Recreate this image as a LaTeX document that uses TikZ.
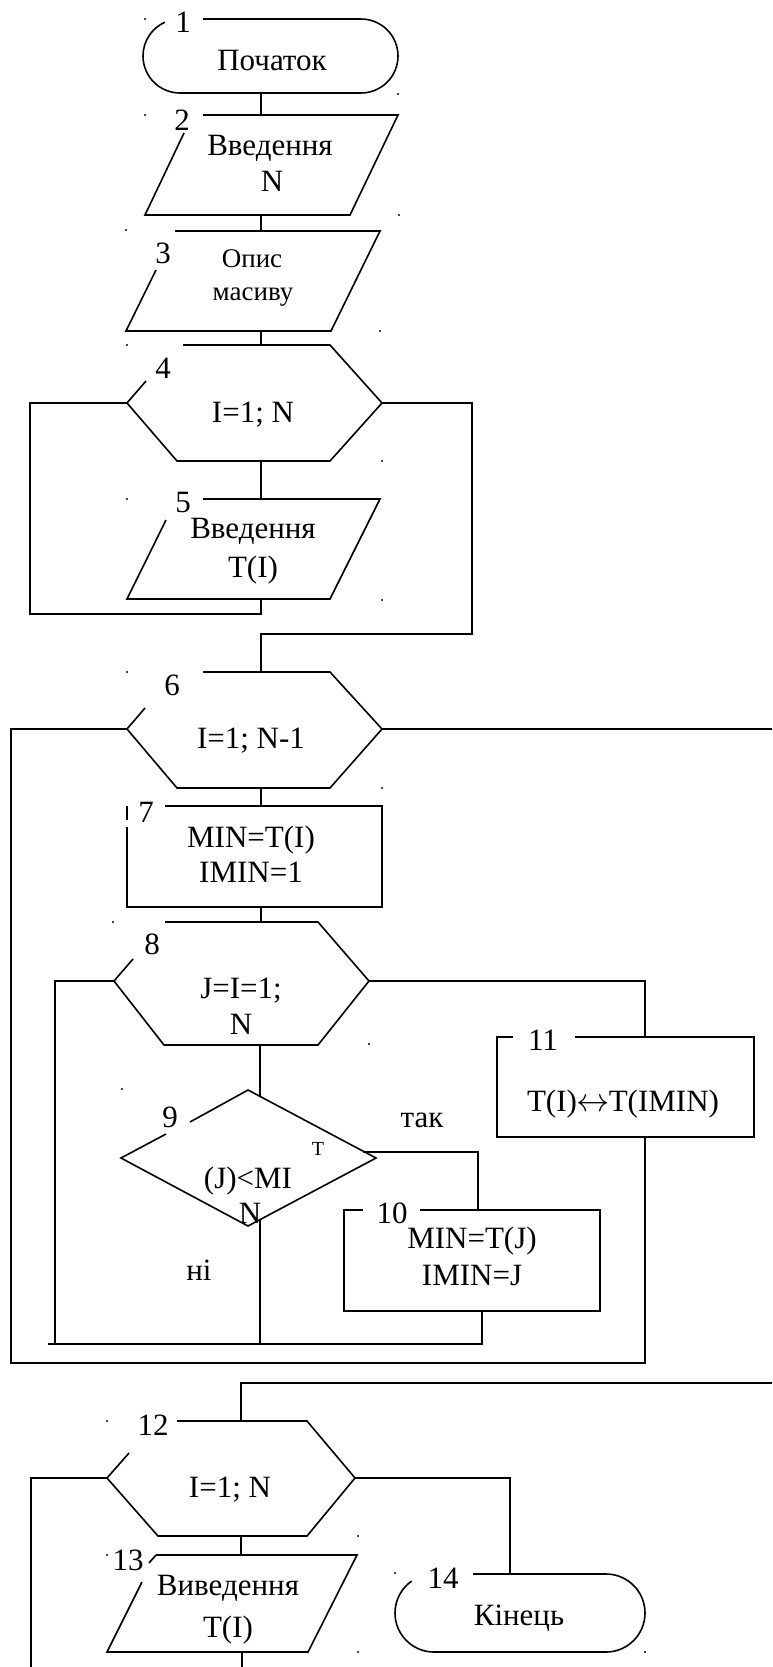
\documentclass[tikz,border=0pt]{standalone}
\usepackage{fontspec}
\setmainfont{Liberation Serif}
\begin{document}
\begin{tikzpicture}[x=0.75pt,y=-0.75pt,line join=miter,
  lbl/.style={anchor=base,inner sep=0pt,font=\fontsize{23.25}{28}\selectfont},
  lblsmall/.style={lbl,font=\fontsize{20.25}{24}\selectfont},
  lbltiny/.style={lbl,font=\fontsize{15}{18}\selectfont},
  outline/.style={draw=black,line width=1.2pt},
  flow/.style={draw=black,line width=1.2pt}]

\useasboundingbox (0,0) rectangle (772,1667);

% ---------- block outlines (gaps left for the block numbers) ----------
% 1: start terminator
\draw[outline] (203,19) -- (361,19) arc[start angle=90,end angle=-90,radius=27.75pt]
  -- (180,93) arc[start angle=270,end angle=114,radius=27.75pt];
% 2: input N
\draw[outline] (203,115) -- (398,115) -- (350,215) -- (145,215) -- (184,133);
% 3: array description
\draw[outline] (175,231) -- (380,231) -- (331,331) -- (126,331) -- (156,270);
% 4: loop I=1;N
\draw[outline] (183,345) -- (330,345) -- (382,403) -- (330,461) -- (177,461) -- (127,403) -- (146,381);
% 5: input T(I)
\draw[outline] (203,499) -- (380,499) -- (330,599) -- (127,599) -- (166,520);
% 6: loop I=1;N-1
\draw[outline] (203,672) -- (330,672) -- (382,729) -- (330,788) -- (177,788) -- (127,729) -- (145,708);
% 7: process
\draw[outline] (165,806) -- (382,806) -- (382,907) -- (127,907) -- (127,827);
\draw[outline] (127,806) -- (127,820);
% 8: loop over J
\draw[outline] (165,922) -- (318,922) -- (369,981) -- (318,1045) -- (164,1045) -- (114,981) -- (133,959);
% 9: decision
\draw[outline] (190,1122) -- (248,1090) -- (376,1158) -- (248,1226) -- (121,1158) -- (166,1134);
% 10: process
\draw[outline] (363,1210) -- (344,1210) -- (344,1311) -- (600,1311) -- (600,1210) -- (420,1210);
% 11: swap
\draw[outline] (513,1037) -- (497,1037) -- (497,1137) -- (754,1137) -- (754,1037) -- (575,1037);
% 12: loop I=1;N
\draw[outline] (177,1421) -- (307,1421) -- (355,1478) -- (307,1536) -- (158,1536) -- (107,1478) -- (129,1453);
% 13: output T(I)
\draw[outline] (156,1555) -- (357,1555) -- (308,1652) -- (107,1652) -- (142,1582);
\draw[outline] (149,1563) -- (156,1555);
% 14: end terminator
\draw[outline] (473,1574) -- (606,1574) arc[start angle=90,end angle=-90,radius=29.25pt]
  -- (434,1652) arc[start angle=270,end angle=125,radius=29.25pt];

% ---------- connection points ----------
\coordinate (t1s) at (261,93);
\coordinate (p2n) at (261,115);  \coordinate (p2s) at (261,215);
\coordinate (p3n) at (261,231);  \coordinate (p3s) at (261,331);
\coordinate (h4n) at (261,345);  \coordinate (h4s) at (261,461);
\coordinate (h4w) at (127,403);  \coordinate (h4e) at (382,403);
\coordinate (p5n) at (261,499);  \coordinate (p5s) at (261,599);
\coordinate (h6n) at (261,672);  \coordinate (h6s) at (261,788);
\coordinate (h6w) at (127,729);  \coordinate (h6e) at (382,729);
\coordinate (r7n) at (261,806);  \coordinate (r7s) at (261,907);
\coordinate (h8n) at (261,922);  \coordinate (h8s) at (260,1045);
\coordinate (h8w) at (114,981);  \coordinate (h8e) at (369,981);
\coordinate (d9n) at (260,1096); \coordinate (d9s) at (260,1220);
\coordinate (d9e) at (363,1152);
\coordinate (r10n) at (478,1210); \coordinate (r10s) at (482,1311);
\coordinate (r11n) at (645,1037); \coordinate (r11s) at (645,1137);
\coordinate (h12n) at (241,1421); \coordinate (h12s) at (241,1536);
\coordinate (h12w) at (107,1478); \coordinate (h12e) at (355,1478);
\coordinate (p13n) at (241,1555); \coordinate (p13s) at (242,1652);
\coordinate (t14n) at (510,1574);
% loop corners and open ends
\coordinate (c4l) at (30,614);   \coordinate (c4r) at (472,634);
\coordinate (c6l) at (11,1363);  \coordinate (c6r) at (772,729);
\coordinate (c8l) at (55,1344);  \coordinate (c8b) at (48,1344);
\coordinate (c12in) at (772,1383);
\coordinate (c12l) at (31,1667); \coordinate (c13s) at (242,1667);

% ---------- connectors ----------
\draw[flow] (t1s) -- (p2n);
\draw[flow] (p2s) -- (p3n);
\draw[flow] (p3s) -- (h4n);
\draw[flow] (h4s) -- (p5n);
\draw[flow] (h4w) -| (c4l) -| (p5s);
\draw[flow] (h4e) -| (c4r) -| (h6n);
\draw[flow] (h6s) -- (r7n);
\draw[flow] (h6w) -| (c6l) -| (r11s);
\draw[flow] (h6e) -- (c6r);
\draw[flow] (r7s) -- (h8n);
\draw[flow] (h8s) -- (d9n);
\draw[flow] (h8w) -| (c8l);
\draw[flow] (h8e) -| (r11n);
\draw[flow] (d9e) -| (r10n);
\draw[flow] (d9s) -- (d9s |- c8b);
\draw[flow] (c8b) -| (r10s);
\draw[flow] (c12in) -| (h12n);
\draw[flow] (h12w) -| (c12l);
\draw[flow] (h12e) -| (t14n);
\draw[flow] (h12s) -- (p13n);
\draw[flow] (p13s) -- (c13s);

% ---------- block numbers ----------
\node[lbl] (num1)  at (183,32)   {1};
\node[lbl] (num2)  at (182,130)  {2};
\node[lbl] (num3)  at (163,263)  {3};
\node[lbl] (num4)  at (163,378)  {4};
\node[lbl] (num5)  at (183,512)  {5};
\node[lbl] (num6)  at (172,695)  {6};
\node[lbl] (num7)  at (146,822)  {7};
\node[lbl] (num8)  at (152,954)  {8};
\node[lbl] (num9)  at (170,1127) {9};
\node[lbl] (num10) at (392,1223) {10};
\node[lbl] (num11) at (543,1050) {11};
\node[lbl] (num12) at (153,1435) {12};
\node[lbl] (num13) at (128,1570) {13};
\node[lbl] (num14) at (443,1588) {14};

% ---------- block texts ----------
\node[lbl] (tx1)  at (272,70)   {Початок};
\node[lbl] (tx2a) at (270,155)  {Введення};
\node[lbl] (tx2b) at (272,191)  {N};
\node[lblsmall] (tx3a) at (252,267) {Опис};
\node[lblsmall] (tx3b) at (253,300) {масиву};
\node[lbl] (tx4)  at (253,422)  {I=1; N};
\node[lbl] (tx5a) at (253,538)  {Введення};
\node[lbl] (tx5b) at (253,577)  {T(I)};
\node[lbl] (tx6)  at (251,748)  {I=1; N-1};
\node[lbl] (tx7a) at (251,847)  {MIN=T(I)};
\node[lbl] (tx7b) at (251,882)  {IMIN=1};
\node[lbl] (tx8a) at (241,998)  {J=I=1;};
\node[lbl] (tx8b) at (241,1034) {N};
\node[lbltiny] (tx9t) at (318,1155) {T};
\node[lbl] (tx9a) at (248,1188) {(J)<MI};
\node[lbl] (tx9b) at (250,1223) {N};
\node[lbl] (yes)  at (422,1127) {так};
\node[lbl] (no)   at (199,1280) {ні};
\node[lbl] (tx10a) at (472,1248) {MIN=T(J)};
\node[lbl] (tx10b) at (472,1285) {IMIN=J};
\node[lbl] (tx11) at (623,1111) {T(I)\kern-0.5pt$\leftrightarrow$\kern-0.5pt T(IMIN)};
\node[lbl] (tx12) at (230,1497) {I=1; N};
\node[lbl] (tx13a) at (228,1595) {Виведення};
\node[lbl] (tx13b) at (228,1637) {T(I)};
\node[lbl] (tx14) at (519,1625) {Кінець};

% ---------- stray text-frame specks ----------
\foreach \p in {(145,19),(398,94),(145,115),(399,215),(126,230),(380,331),
                (127,345),(382,461),(127,499),(382,600),(127,672),(382,788),
                (113,922),(369,1044),(122,1089),(107,1421),(358,1536),
                (107,1555),(358,1652),(395,1573),(645,1652)}
  \fill \p circle[radius=0.8pt];
\end{tikzpicture}
\end{document}
